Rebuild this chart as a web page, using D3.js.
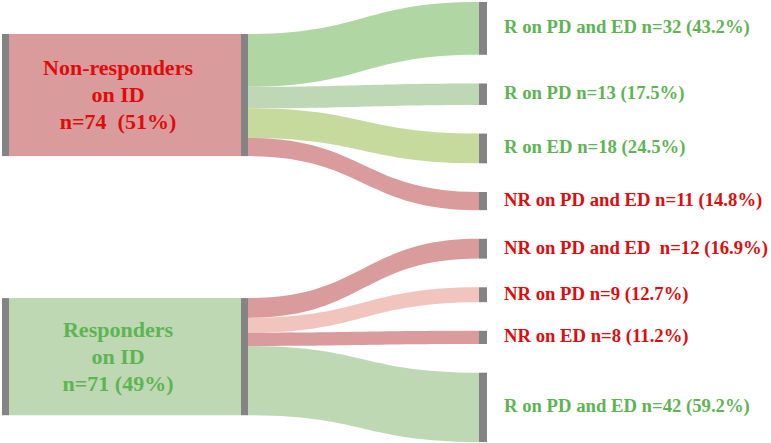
<!DOCTYPE html>
<html>
<head>
<meta charset="UTF-8">
<script src="https://cdn.jsdelivr.net/npm/d3@7"></script>
<style>
  body { margin: 0; background: #fff; }
</style>
</head>
<body>
<script>
// left groups (response on ID)
var sources = ["Non-responders|on ID|n=74\u00a0 (51%)", "Responders|on ID|n=71 (49%)"];
var sourceValues = [74, 71];
var sourceFill = ["#d99b9b", "#bdd8b3"];
var sourceText = ["#e00b0b", "#5db552"];

// right groups, in drawing order
var targets = ["R on PD and ED n=32 (43.2%)", "R on PD n=13 (17.5%)", "R on ED n=18 (24.5%)",
  "NR on PD and ED n=11 (14.8%)", "NR on PD and ED\u00a0 n=12 (16.9%)", "NR on PD n=9 (12.7%)",
  "NR on ED n=8 (11.2%)", "R on PD and ED n=42 (59.2%)"];
var targetValues = [32, 13, 18, 11, 12, 9, 8, 42];
var targetSource = [0, 0, 0, 0, 1, 1, 1, 1];
var targetFill = ["#b0d6a4", "#bed8b6", "#c5da9c", "#d99b9b", "#d99b9b", "#f1c4be", "#d99b9b", "#bdd8b3"];
var targetText = ["#5db552", "#5db552", "#5db552", "#e00b0b", "#e00b0b", "#e00b0b", "#e00b0b", "#5db552"];

var width = 771, height = 443;
var svg = d3.select("body").append("svg").attr("width", width).attr("height", height);

var k = 1.65;                 // px per patient
var yk = d3.scaleLinear().domain([0, 1]).range([0, k]);
var gray = "#848484";

// right column: uniform padding between 2 and 442
var rTop = 2, rBottom = 442;
var rPad = (rBottom - rTop - yk(d3.sum(targetValues))) / (targets.length - 1);
var tNodes = [];
var y = rTop;
targetValues.forEach(function(v, i) {
  tNodes.push({y0: y, y1: y + yk(v), i: i});
  y += yk(v) + rPad;
});

// left column
var lTop = 34, lPad = 142;
var sNodes = [];
y = lTop;
sourceValues.forEach(function(v, i) {
  sNodes.push({y0: y, y1: y + yk(v), i: i});
  y += yk(v) + lPad;
});

var x0 = 248, x1 = 479;

// links
var sOff = sNodes.map(function(d) { return d.y0; });
var links = tNodes.map(function(t, i) {
  var s = targetSource[i];
  var h = yk(targetValues[i]);
  var l = {sy0: sOff[s], sy1: sOff[s] + h, ty0: t.y0, ty1: t.y1, i: i};
  sOff[s] += h;
  return l;
});

function ribbon(l) {
  var xm = (x0 + x1) / 2;
  var p = d3.path();
  p.moveTo(x0, l.sy0);
  p.bezierCurveTo(xm, l.sy0, xm, l.ty0, x1, l.ty0);
  p.lineTo(x1, l.ty1);
  p.bezierCurveTo(xm, l.ty1, xm, l.sy1, x0, l.sy1);
  p.closePath();
  return p.toString();
}

svg.append("g").selectAll("path").data(links).join("path")
  .attr("d", ribbon)
  .attr("fill", function(d) { return targetFill[d.i]; });

// left nodes
var ln = svg.append("g").selectAll("g").data(sNodes).join("g");
ln.append("rect").attr("x", 9).attr("width", 232)
  .attr("y", function(d) { return d.y0; })
  .attr("height", function(d) { return d.y1 - d.y0; })
  .attr("fill", function(d) { return sourceFill[d.i]; });
ln.append("rect").attr("x", 2).attr("width", 7)
  .attr("y", function(d) { return d.y0; })
  .attr("height", function(d) { return d.y1 - d.y0; })
  .attr("fill", gray);
ln.append("rect").attr("x", 241).attr("width", 7)
  .attr("y", function(d) { return d.y0; })
  .attr("height", function(d) { return d.y1 - d.y0; })
  .attr("fill", gray);
ln.each(function(d) {
  var lines = sources[d.i].split("|");
  var cy = (d.y0 + d.y1) / 2;
  d3.select(this).selectAll("text").data(lines).join("text")
    .attr("x", 118)
    .attr("y", function(t, j) { return cy + (j - 1) * 27 + 7; })
    .attr("text-anchor", "middle")
    .attr("font-size", 22)
    .attr("font-weight", "bold")
    .attr("font-family", "Liberation Serif, Times New Roman, serif")
    .attr("fill", sourceText[d.i])
    .text(function(t) { return t; });
});

// right nodes
var rn = svg.append("g").selectAll("g").data(tNodes).join("g");
rn.append("rect").attr("x", x1).attr("width", 8)
  .attr("y", function(d) { return d.y0; })
  .attr("height", function(d) { return d.y1 - d.y0; })
  .attr("fill", gray);
rn.append("text")
  .attr("x", 504)
  .attr("y", function(d) { return (d.y0 + d.y1) / 2 + 5; })
  .attr("font-size", 18.7)
  .attr("font-weight", "bold")
  .attr("font-family", "Liberation Serif, Times New Roman, serif")
  .attr("fill", function(d) { return targetText[d.i]; })
  .text(function(d) { return targets[d.i]; });
</script>
</body>
</html>
